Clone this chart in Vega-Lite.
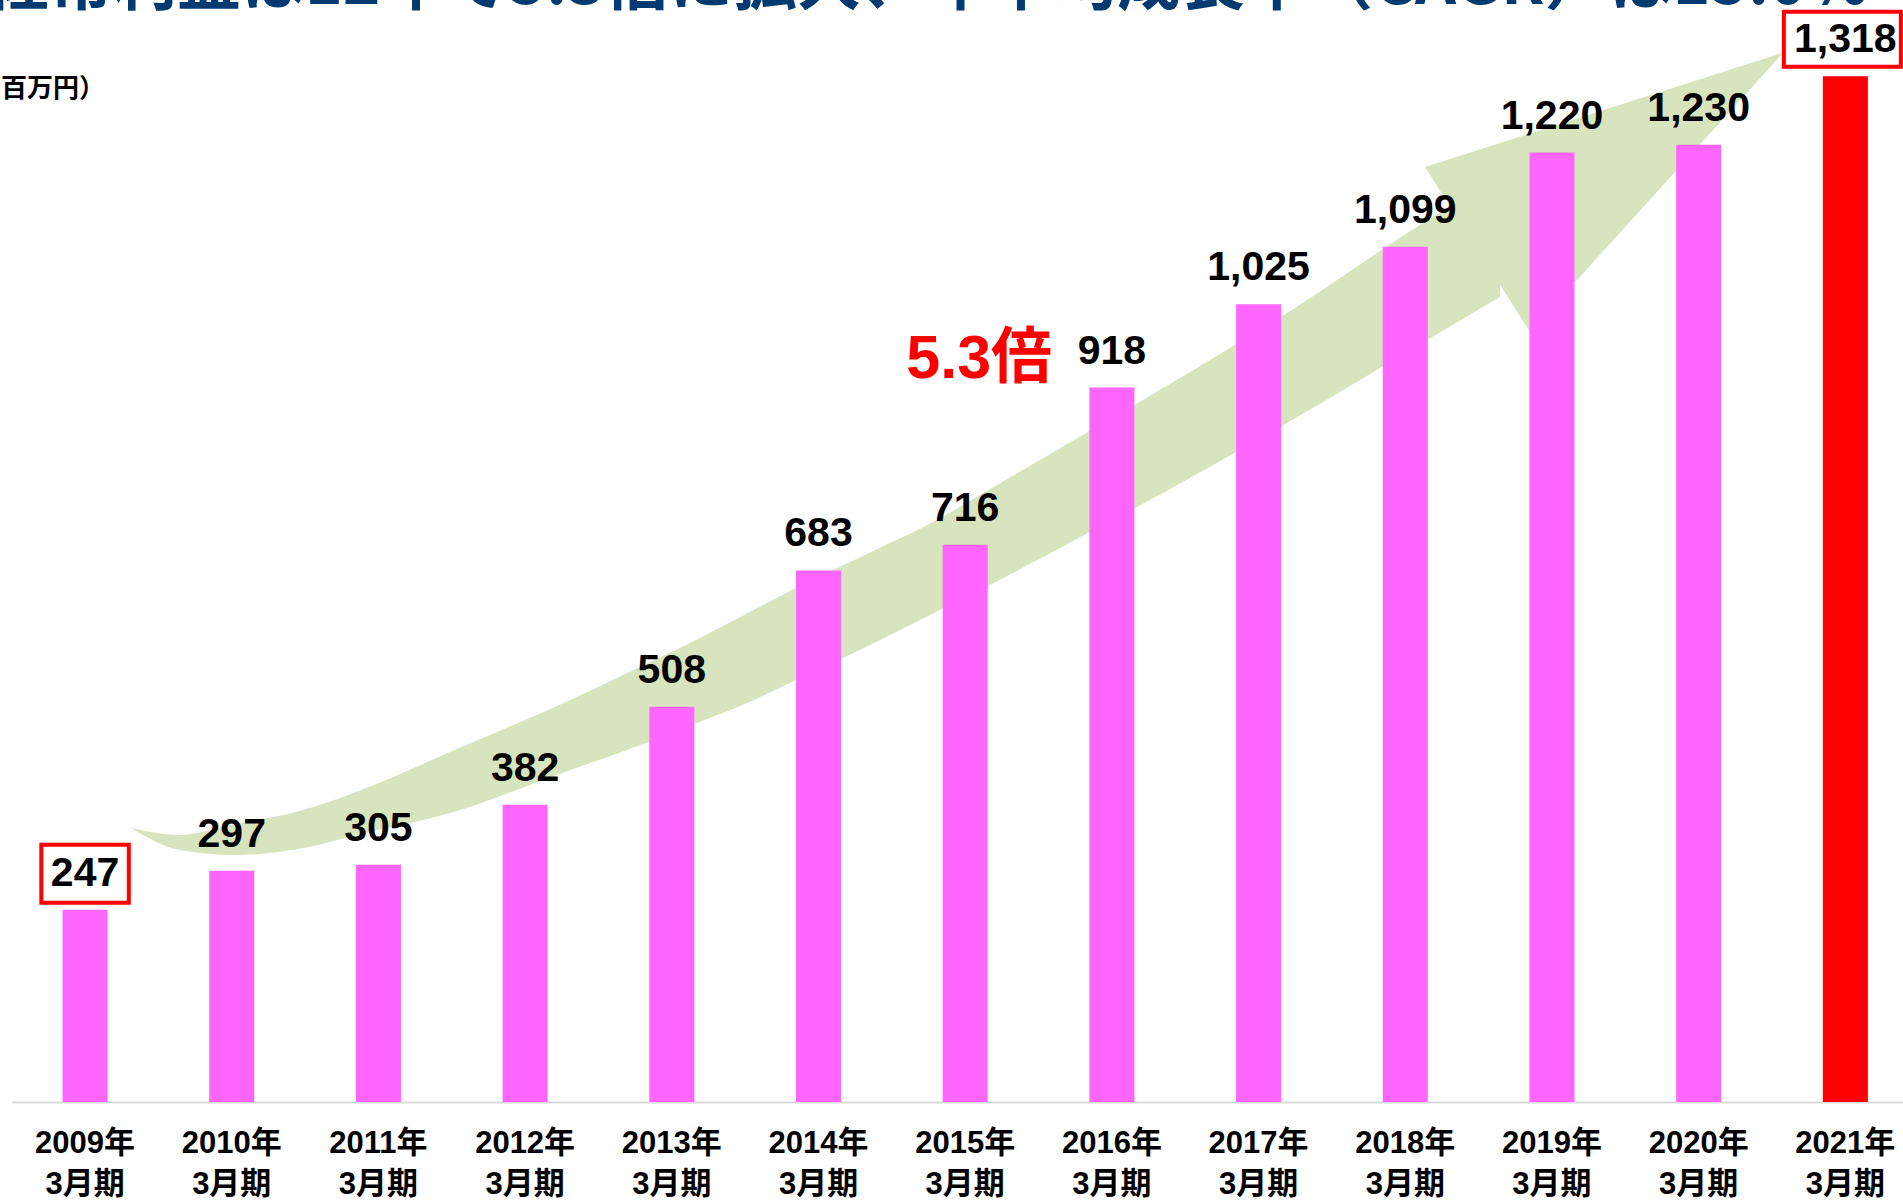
{
  "$schema": "https://vega.github.io/schema/vega-lite/v6.json",
  "width": 1891,
  "height": 1102,
  "autosize": {"type": "none"},
  "padding": {"left": 12, "top": 0, "right": 0, "bottom": 98},
  "background": "white",
  "config": {"view": {"stroke": null}, "font": "Liberation Sans"},
  "datasets": {
    "sales": [
      {"period": "2009年3月期", "value": 247},
      {"period": "2010年3月期", "value": 297},
      {"period": "2011年3月期", "value": 305},
      {"period": "2012年3月期", "value": 382},
      {"period": "2013年3月期", "value": 508},
      {"period": "2014年3月期", "value": 683},
      {"period": "2015年3月期", "value": 716},
      {"period": "2016年3月期", "value": 918},
      {"period": "2017年3月期", "value": 1025},
      {"period": "2018年3月期", "value": 1099},
      {"period": "2019年3月期", "value": 1220},
      {"period": "2020年3月期", "value": 1230},
      {"period": "2021年3月期", "value": 1318}
    ],
    "arrowBody": [
      {"x": 0.3136, "top": 352.1, "bottom": 352.1},
      {"x": 0.6476, "top": 343.1, "bottom": 323.9},
      {"x": 1.0361, "top": 357.7, "bottom": 317.4},
      {"x": 1.4315, "top": 372.3, "bottom": 324.5},
      {"x": 1.9018, "top": 402.2, "bottom": 345.3},
      {"x": 2.4881, "top": 449.8, "bottom": 371.4},
      {"x": 3.2788, "top": 514.0, "bottom": 424.6},
      {"x": 3.8241, "top": 562.8, "bottom": 461.3},
      {"x": 4.0695, "top": 584.7, "bottom": 479.7},
      {"x": 4.5603, "top": 632.5, "bottom": 516.6},
      {"x": 4.8603, "top": 661.8, "bottom": 543.4},
      {"x": 5.3510, "top": 706.1, "bottom": 587.3},
      {"x": 5.8078, "top": 747.9, "bottom": 630.3},
      {"x": 6.1418, "top": 784.5, "bottom": 661.8},
      {"x": 6.8371, "top": 861.0, "bottom": 731.2},
      {"x": 7.2597, "top": 907.5, "bottom": 773.6},
      {"x": 8.1936, "top": 1013.9, "bottom": 872.5},
      {"x": 9.3047, "top": 1150.1, "bottom": 996.4},
      {"x": 9.6455, "top": 1184.8, "bottom": 1034.4}
    ],
    "arrowHead": [
      {"x": 9.1343, "top": 1201.5, "bottom": 1201.5},
      {"x": 9.8501, "top": 1244.4, "bottom": 989.5},
      {"x": 11.5746, "top": 1348.0, "bottom": 1348.0}
    ],
    "notes": [
      {"period": "2015年3月期", "text": "5.3倍"}
    ],
    "unit": [
      {"period": "2009年3月期", "text": "（百万円）"}
    ],
    "heading": [
      {"period": "2009年3月期", "text": "経常利益は12年で5.3倍に拡大、年平均成長率（CAGR）は15.0%"}
    ]
  },
  "layer": [
    {
      "layer": [
        {
          "data": {"name": "arrowBody"},
          "mark": {"type": "area", "color": "#D7E4BD", "interpolate": "monotone", "orient": "vertical"},
          "encoding": {
            "x": {"field": "x", "type": "quantitative", "scale": {"domain": [-0.4976, 12.393], "nice": false, "zero": false}, "axis": null},
            "y": {"field": "top", "type": "quantitative", "scale": {"domain": [0, 1416], "nice": false, "zero": true}, "axis": null},
            "y2": {"field": "bottom"}
          }
        },
        {
          "data": {"name": "arrowHead"},
          "mark": {"type": "area", "color": "#D7E4BD", "interpolate": "linear", "orient": "vertical"},
          "encoding": {
            "x": {"field": "x", "type": "quantitative", "scale": {"domain": [-0.4976, 12.393], "nice": false, "zero": false}, "axis": null},
            "y": {"field": "top", "type": "quantitative", "scale": {"domain": [0, 1416], "nice": false, "zero": true}, "axis": null},
            "y2": {"field": "bottom"}
          }
        }
      ]
    },
    {
      "layer": [
        {
          "data": {"name": "sales"},
          "mark": {"type": "bar"},
          "encoding": {
            "x": {
              "field": "period", "type": "nominal", "sort": null,
              "scale": {"paddingInner": 0.693, "paddingOuter": 0.292, "align": 0.59},
              "axis": {
                "title": null,
                "labelExpr": "[slice(datum.label,0,5), slice(datum.label,5)]",
                "labelFont": "Liberation Sans, Noto Sans CJK JP",
                "labelFontSize": 31,
                "labelFontWeight": "bold",
                "labelColor": "black",
                "labelLineHeight": 41,
                "labelBaseline": "middle",
                "labelPadding": 41,
                "labelAngle": 0,
                "labelOverlap": false,
                "labelBound": false,
                "ticks": false,
                "tickSize": 0,
                "domainColor": "#D9D9D9",
                "domainWidth": 2
              }
            },
            "y": {
              "field": "value", "type": "quantitative",
              "scale": {"domain": [0, 1416], "nice": false, "zero": true},
              "axis": null
            },
            "color": {
              "condition": {"test": "datum.period === '2021年3月期'", "value": "#FF0000"},
              "value": "#FF66FF"
            }
          }
        },
        {
          "data": {"name": "sales"},
          "transform": [{"filter": "datum.period === '2009年3月期'"}],
          "mark": {"type": "point", "shape": "M-1,-0.663L1,-0.663L1,0.663L-1,0.663Z", "size": 7656, "filled": true, "fill": "white", "stroke": "#FF0000", "strokeWidth": 4, "opacity": 1, "yOffset": -36},
          "encoding": {
            "x": {"field": "period", "type": "nominal", "sort": null},
            "y": {"field": "value", "type": "quantitative", "scale": {"domain": [0, 1416], "nice": false, "zero": true}, "axis": null}
          }
        },
        {
          "data": {"name": "sales"},
          "transform": [{"filter": "datum.period === '2021年3月期'"}],
          "mark": {"type": "point", "shape": "M-1,-0.47L1,-0.47L1,0.47L-1,0.47Z", "size": 13689, "filled": true, "fill": "white", "stroke": "#FF0000", "strokeWidth": 4, "opacity": 1, "yOffset": -37, "xOffset": -3},
          "encoding": {
            "x": {"field": "period", "type": "nominal", "sort": null},
            "y": {"field": "value", "type": "quantitative", "scale": {"domain": [0, 1416], "nice": false, "zero": true}, "axis": null}
          }
        },
        {
          "data": {"name": "sales"},
          "mark": {"type": "text", "baseline": "middle", "dy": -36, "fontSize": 41, "fontWeight": "bold", "font": "Liberation Sans", "color": "black"},
          "encoding": {
            "x": {"field": "period", "type": "nominal", "sort": null},
            "y": {"field": "value", "type": "quantitative", "scale": {"domain": [0, 1416], "nice": false, "zero": true}, "axis": null},
            "text": {"field": "value", "type": "quantitative", "format": ","}
          }
        },
        {
          "data": {"name": "notes"},
          "mark": {"type": "text", "baseline": "middle", "dx": 14, "fontSize": 61, "fontWeight": "bold", "font": "Liberation Sans, Noto Sans CJK JP", "color": "#FF0000"},
          "encoding": {
            "x": {"field": "period", "type": "nominal", "sort": null},
            "y": {"datum": 953, "type": "quantitative", "scale": {"domain": [0, 1416], "nice": false, "zero": true}, "axis": null},
            "text": {"field": "text", "type": "nominal"}
          }
        },
        {
          "data": {"name": "unit"},
          "mark": {"type": "text", "baseline": "middle", "align": "left", "dx": -110, "fontSize": 26, "fontWeight": "bold", "font": "Noto Sans CJK JP", "color": "black"},
          "encoding": {
            "x": {"field": "period", "type": "nominal", "sort": null},
            "y": {"datum": 1301.7, "type": "quantitative", "scale": {"domain": [0, 1416], "nice": false, "zero": true}, "axis": null},
            "text": {"field": "text", "type": "nominal"}
          }
        },
        {
          "data": {"name": "heading"},
          "mark": {"type": "text", "baseline": "alphabetic", "align": "left", "dx": -100, "fontSize": 64, "fontWeight": "bold", "font": "Noto Sans CJK JP", "color": "#003A70"},
          "encoding": {
            "x": {"field": "period", "type": "nominal", "sort": null},
            "y": {"datum": 1411, "type": "quantitative", "scale": {"domain": [0, 1416], "nice": false, "zero": true}, "axis": null},
            "text": {"field": "text", "type": "nominal"}
          }
        }
      ]
    }
  ],
  "resolve": {"scale": {"x": "independent"}, "axis": {"x": "independent"}}
}
